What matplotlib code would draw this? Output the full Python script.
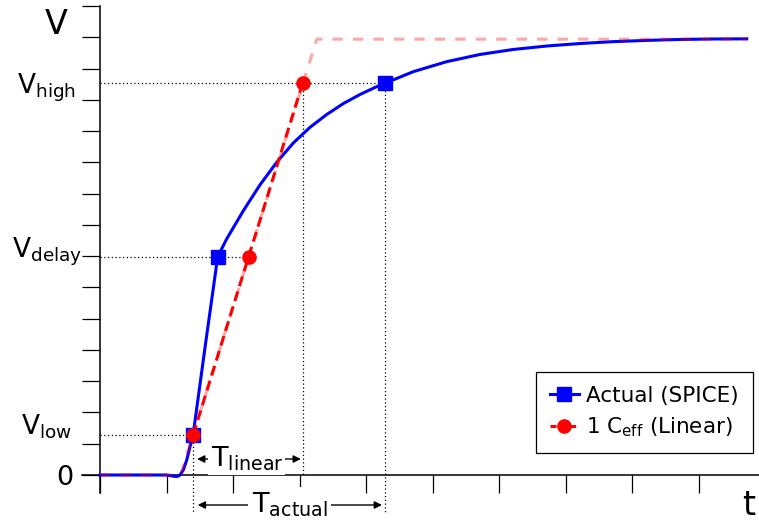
import matplotlib
matplotlib.use("Agg")
import matplotlib.pyplot as plt
from matplotlib.lines import Line2D

plt.rcParams['font.family'] = ['DejaVu Sans']
plt.rcParams['mathtext.default'] = 'regular'

# ---- data ----
t_actual = [0.0, 1.00, 1.08, 1.15, 1.18, 1.203, 1.253, 1.304, 1.353, 1.40, 1.58, 1.77,
            1.905, 2.155, 2.406, 2.657, 2.907, 3.158, 3.409, 3.659, 3.910, 4.161, 4.286,
            4.711, 5.214, 5.714, 6.215, 6.717, 7.218, 7.719, 8.221, 8.722, 9.223, 9.725]
v_actual = [0.0, 0.0, -0.03, -0.05, -0.03, 0.0, 0.16, 0.48, 0.90, 1.28, 4.09, 6.98,
            7.55, 8.45, 9.28, 10.00, 10.62, 11.12, 11.53, 11.88, 12.17, 12.42, 12.53,
            12.90, 13.22, 13.45, 13.61, 13.72, 13.80, 13.86, 13.90, 13.93, 13.945, 13.95]

t_ramp = [0.0, 1.21, 3.26, 9.72]          # extrapolated linear ramp (faded)
v_ramp = [0.0, 0.0, 13.94, 13.94]
t_linear = [1.40, 3.05]                    # linear model between Vlow and Vhigh
v_linear = [1.28, 12.55]

levels = [1.28, 6.98, 12.55]               # Vlow, Vdelay, Vhigh
t_actual_pts = [1.40, 1.77, 4.29]
t_linear_pts = [1.40, 2.24, 3.05]
level_labels = [r'$V_{low}$', r'$V_{delay}$', r'$V_{high}$']
y_ticks = list(range(16))
x_ticks = list(range(10))

# ---- figure ----
W, H = 759, 522
fig = plt.figure(figsize=(W / 100, H / 100), dpi=100)
ax = fig.add_axes([82 / W, (H - 493) / H, (759 - 82) / W, (493 - 6) / H])
ax.set_xlim(-18 / 66.5, 659 / 66.5)
ax.set_ylim(-18 / 31.27, 15)

for s in ['top', 'right']:
    ax.spines[s].set_visible(False)
ax.spines['left'].set_position(('data', 0))
ax.spines['bottom'].set_position(('data', 0))
for s in ['left', 'bottom']:
    ax.spines[s].set_linewidth(1.1)
ax.set_xticks(x_ticks)
ax.set_yticks(y_ticks)
ax.tick_params(axis='both', direction='out', length=13, width=0.9, color='black',
               labelleft=False, labelbottom=False)

# curves
ax.plot(t_actual, v_actual, color='#0000ff', lw=2.2, zorder=3)
ax.plot(t_ramp, v_ramp, color='#ff0000', alpha=0.35, lw=2.2, ls=(0, (3.4, 3.3)), zorder=4)
ax.plot(t_linear, v_linear, color='#ff0000', lw=2.2, ls=(0, (3.3, 1.8)), zorder=4)

# guide lines
dot = dict(color='black', lw=0.9, ls=(0, (1, 2)), zorder=2)
ax.plot([0, t_actual_pts[0]], [levels[0]] * 2, **dot)
ax.plot([0, t_linear_pts[1]], [levels[1]] * 2, **dot)
ax.plot([0, t_actual_pts[2]], [levels[2]] * 2, **dot)
ylow = -38 / 31.27
ax.plot([t_actual_pts[0]] * 2, [levels[0], ylow], clip_on=False, **dot)
ax.plot([t_actual_pts[2]] * 2, [levels[2], ylow], clip_on=False, **dot)
ax.plot([t_linear_pts[2]] * 2, [levels[2], 0], clip_on=False, **dot)

# markers
ax.plot(t_actual_pts, levels, ls='none', marker='s', ms=10, color='#0000ff', zorder=5)
ax.plot(t_linear_pts, levels, ls='none', marker='o', ms=9.5, color='#ff0000', zorder=6)

# level labels
offs = [(-28, 0), (-18, -1), (-24, -11)]
for lab, lv, (dx, dy) in zip(level_labels, levels, offs):
    ax.annotate(lab, xy=(0, lv), xytext=(dx, dy), textcoords='offset pixels',
                ha='right', va='baseline', fontsize=19, annotation_clip=False)
ax.annotate('0', xy=(0, 0), xytext=(-27, -10), textcoords='offset pixels',
            ha='right', va='baseline', fontsize=19.5, annotation_clip=False)
ax.annotate('V', xy=(0, 15), xytext=(-44, -28), textcoords='offset pixels',
            ha='center', va='baseline', fontsize=24, annotation_clip=False)
ax.annotate('t', xy=(9.76, 0), xytext=(0, -40), textcoords='offset pixels',
            ha='center', va='baseline', fontsize=24, annotation_clip=False)

# time-interval arrows
ap = dict(arrowstyle='<|-|>', color='black', lw=1.0, shrinkA=0, shrinkB=0,
          mutation_scale=11)
y_lin = 16 / 31.27
y_act = -30 / 31.27
ax.annotate('', xy=(1.46, y_lin), xytext=(3.02, y_lin), arrowprops=ap,
            annotation_clip=False)
ax.text(2.21, y_lin, r'$T_{linear}$', ha='center', va='center', fontsize=19.5,
        bbox=dict(facecolor='white', edgecolor='none', pad=1.5), zorder=7, clip_on=False)
ax.annotate('', xy=(1.47, y_act), xytext=(4.24, y_act), arrowprops=ap,
            annotation_clip=False)
ax.text(2.85, y_act, r'$T_{actual}$', ha='center', va='center', fontsize=19.5,
        bbox=dict(facecolor='white', edgecolor='none', pad=2.5), zorder=7, clip_on=False)

# legend
handles = [
    Line2D([], [], color='#0000ff', lw=2.2, marker='s', ms=10),
    Line2D([], [], color='#ff0000', lw=2.2, ls=(0, (2, 1.2)), marker='o', ms=9.5),
]
leg = ax.legend(handles, ['Actual (SPICE)', r'1 C$_{eff}$ (Linear)'],
                loc='lower right', bbox_to_anchor=(0.991, 0.082), borderaxespad=0,
                fontsize=15.5, fancybox=False, framealpha=1, edgecolor='black',
                handlelength=1.35, handletextpad=0.35, borderpad=0.65, labelspacing=0.45)
leg.get_frame().set_linewidth(0.9)

fig.savefig('out.png', dpi=100)
